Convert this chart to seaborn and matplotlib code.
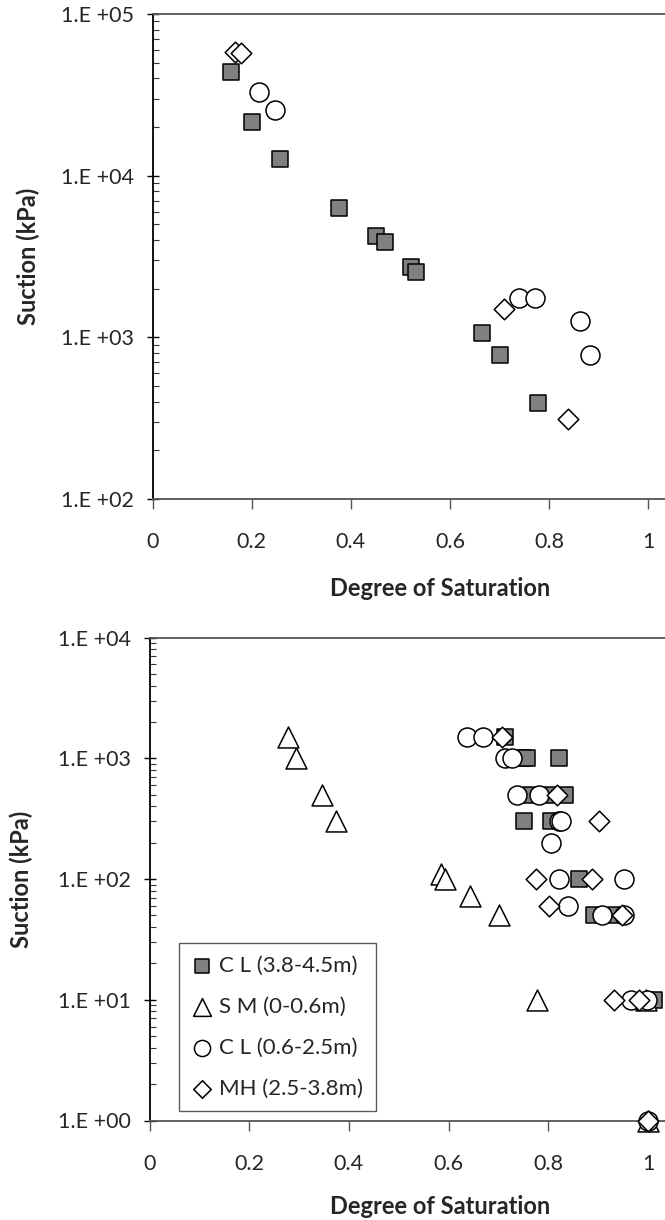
import numpy as np
import pandas as pd
import matplotlib
matplotlib.use("Agg")
import matplotlib.pyplot as plt
from matplotlib.ticker import LogLocator, NullFormatter, FixedLocator, FixedFormatter
import seaborn as sns

# ---------------- data: top panel ----------------
top_cl_deep_x = [0.159, 0.201, 0.257, 0.376, 0.450, 0.468, 0.521, 0.532, 0.665, 0.700, 0.778]
top_cl_deep_y = [44000, 21400, 12700, 6340, 4260, 3870, 2740, 2530, 1070, 774, 395]
top_cl_mid_x = [0.214, 0.246, 0.739, 0.771, 0.862, 0.883]
top_cl_mid_y = [32700, 25500, 1760, 1760, 1270, 774]
top_mh_x = [0.167, 0.179, 0.709, 0.839]
top_mh_y = [58500, 57100, 1490, 312]

# ---------------- data: bottom panel ----------------
bot_cl_deep_x = [0.714, 0.750, 0.757, 0.822, 0.765, 0.805, 0.834, 0.752, 0.805, 0.862, 0.892, 0.935, 1.011]
bot_cl_deep_y = [1500, 1000, 1000, 1000, 500, 500, 500, 300, 300, 100, 50, 50, 10]
bot_sm_x = [0.277, 0.294, 0.347, 0.375, 0.585, 0.592, 0.642, 0.701, 0.778, 0.996, 1.000]
bot_sm_y = [1500, 1000, 500, 300, 110, 100, 73, 50, 10, 10, 1]
bot_cl_mid_x = [0.636, 0.669, 0.713, 0.728, 0.738, 0.781, 0.822, 0.826, 0.805,
                0.822, 0.952, 0.839, 0.907, 0.951, 0.966, 0.998, 1.000]
bot_cl_mid_y = [1500, 1500, 1000, 1000, 500, 500, 300, 300, 200,
                100, 100, 60, 50, 50, 10, 10, 1]
bot_mh_x = [0.708, 0.817, 0.901, 0.775, 0.887, 0.802, 0.947, 0.932, 0.982, 1.000]
bot_mh_y = [1500, 500, 300, 100, 100, 60, 50, 10, 10, 1]

series_labels = ["C L (3.8-4.5m)", "S M (0-0.6m)", "C L (0.6-2.5m)", "MH (2.5-3.8m)"]
x_ticks = [0, 0.2, 0.4, 0.6, 0.8, 1]
x_tick_labels = ["0", "0.2", "0.4", "0.6", "0.8", "1"]
top_y_ticks = [1e2, 1e3, 1e4, 1e5]
top_y_labels = ["1.E +02", "1.E +03", "1.E +04", "1.E +05"]
bot_y_ticks = [1e0, 1e1, 1e2, 1e3, 1e4]
bot_y_labels = ["1.E +00", "1.E +01", "1.E +02", "1.E +03", "1.E +04"]

sns.set_style("white")
plt.rcParams["font.family"] = ["Lato", "DejaVu Sans"]

W, H = 665, 1220
fig = plt.figure(figsize=(W / 100, H / 100), dpi=100)

def px_axes(left, top, right, bottom):
    return fig.add_axes([left / W, 1 - bottom / H, (right - left) / W, (bottom - top) / H])

ax1 = px_axes(152.7, 14, 665, 499)
ax2 = px_axes(149.5, 637.5, 665, 1120.5)

styles = {
    "sq": dict(marker="s", s=132, facecolor="#808080", edgecolor="black", linewidth=1.1),
    "tri": dict(marker="^", s=227, facecolor="white", edgecolor="black", linewidth=1.1),
    "circ": dict(marker="o", s=187, facecolor="white", edgecolor="black", linewidth=1.1),
    "dia": dict(marker="D", s=110, facecolor="white", edgecolor="black", linewidth=1.1),
}

def draw(ax, x, y, key, label=None, z=3):
    df = pd.DataFrame({"S": x, "suction": y})
    sns.scatterplot(data=df, x="S", y="suction", ax=ax, label=label, zorder=z,
                    clip_on=False, legend=False if label is None else "auto", **styles[key])

draw(ax1, top_cl_deep_x, top_cl_deep_y, "sq", z=3)
draw(ax1, top_cl_mid_x, top_cl_mid_y, "circ", z=5)
draw(ax1, top_mh_x, top_mh_y, "dia", z=6)

draw(ax2, bot_cl_deep_x, bot_cl_deep_y, "sq", series_labels[0], z=3)
draw(ax2, bot_sm_x, bot_sm_y, "tri", series_labels[1], z=4)
draw(ax2, bot_cl_mid_x, bot_cl_mid_y, "circ", series_labels[2], z=5)
draw(ax2, bot_mh_x, bot_mh_y, "dia", series_labels[3], z=6)

def style_axis(ax, ymin, ymax, yticks, ylabels, ylabel_x, xlabel_off):
    ax.set_yscale("log")
    ax.set_ylim(ymin, ymax)
    ax.set_xlim(0, 1.034)
    ax.xaxis.set_major_locator(FixedLocator(x_ticks))
    ax.xaxis.set_major_formatter(FixedFormatter(x_tick_labels))
    ax.yaxis.set_major_locator(FixedLocator(yticks))
    ax.yaxis.set_major_formatter(FixedFormatter(ylabels))
    ax.yaxis.set_minor_locator(LogLocator(base=10, subs=np.arange(2, 10), numticks=20))
    ax.yaxis.set_minor_formatter(NullFormatter())
    ax.tick_params(axis="x", which="major", direction="out", length=7, width=1,
                   color="#555555", labelsize=15.5, pad=17, bottom=True)
    ax.tick_params(axis="y", which="major", direction="inout", length=9, width=1,
                   color="black", labelsize=15.5, pad=9, left=True)
    ax.tick_params(axis="y", which="minor", direction="in", length=4.3, width=0.8,
                   color="#333333", left=True)
    for side in ["top", "bottom"]:
        ax.spines[side].set_visible(True)
        ax.spines[side].set_color("#555555")
        ax.spines[side].set_linewidth(1.3)
    ax.spines["left"].set_color("black")
    ax.spines["left"].set_linewidth(1.3)
    ax.spines["right"].set_visible(False)
    ax.grid(False)
    ax.set_xlabel("Degree of Saturation", fontsize=17, fontweight="bold")
    ax.set_ylabel("Suction (kPa)", fontsize=17, fontweight="bold")
    ax.xaxis.label.set_verticalalignment("center")
    ax.yaxis.label.set_verticalalignment("center")
    bb_w = ax.get_position().width * W
    bb_h = ax.get_position().height * H
    ax.xaxis.set_label_coords((440 - ax.get_position().x0 * W) / bb_w, -xlabel_off / bb_h)
    ax.yaxis.set_label_coords((ylabel_x - ax.get_position().x0 * W) / bb_w, 0.5)

style_axis(ax1, 1e2, 1e5, top_y_ticks, top_y_labels, 28, 90)
style_axis(ax2, 1e0, 1e4, bot_y_ticks, bot_y_labels, 21, 86)

leg = ax2.legend(loc="upper left", bbox_to_anchor=((179.3 - 149.5) / 515.5, (1120.5 - 943.3) / 483),
                 borderaxespad=0, frameon=True, fancybox=False, fontsize=16,
                 handletextpad=0.35, labelspacing=0.95, borderpad=0.55, handlelength=0.9,
                 markerscale=0.85)
leg.get_frame().set_edgecolor("#333333")
leg.get_frame().set_linewidth(1.0)
leg.set_zorder(10)

fig.savefig("out.png", dpi=100)
